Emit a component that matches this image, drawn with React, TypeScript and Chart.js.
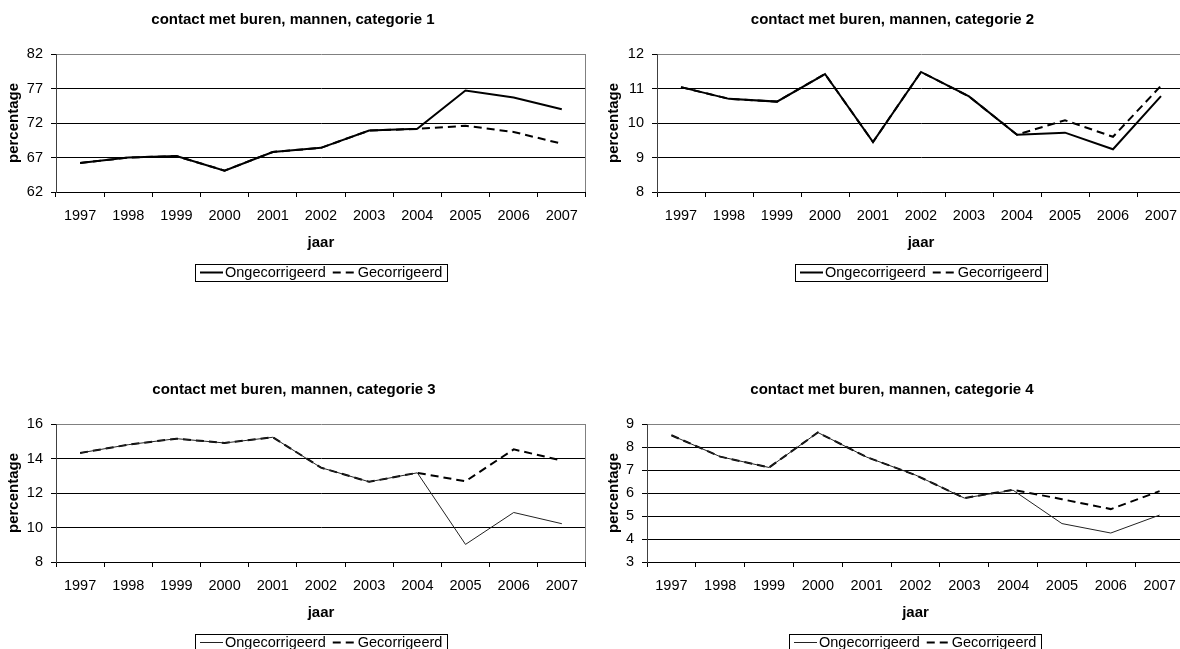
import React, { useEffect, useRef } from 'react';
import { Chart, registerables } from 'chart.js';

Chart.register(...registerables);

// ---------- data ----------
const years = ['1997', '1998', '1999', '2000', '2001', '2002', '2003', '2004', '2005', '2006', '2007'];
const seriesNames = ['Ongecorrigeerd', 'Gecorrigeerd'];
const xAxisTitle = 'jaar';
const yAxisTitle = 'percentage';

const chartTitles = [
  'contact met buren, mannen, categorie 1',
  'contact met buren, mannen, categorie 2',
  'contact met buren, mannen, categorie 3',
  'contact met buren, mannen, categorie 4',
];

const cat1Ongecorrigeerd = [66.2, 67.0, 67.2, 65.1, 67.8, 68.4, 70.9, 71.15, 76.7, 75.7, 74.0];
const cat1Gecorrigeerd = [66.2, 67.0, 67.2, 65.1, 67.8, 68.4, 70.9, 71.15, 71.6, 70.7, 69.0];

const cat2Ongecorrigeerd = [11.04, 10.7, 10.62, 11.42, 9.45, 11.48, 10.77, 9.66, 9.72, 9.24, 10.78];
const cat2Gecorrigeerd = [11.04, 10.7, 10.62, 11.42, 9.45, 11.48, 10.77, 9.66, 10.08, 9.6, 11.08];

const cat3Ongecorrigeerd = [14.32, 14.8, 15.15, 14.9, 15.23, 13.47, 12.65, 13.17, 9.02, 10.87, 10.22];
const cat3Gecorrigeerd = [14.32, 14.8, 15.15, 14.9, 15.23, 13.47, 12.65, 13.17, 12.68, 14.53, 13.88];

const cat4Ongecorrigeerd = [8.51, 7.58, 7.11, 8.63, 7.56, 6.78, 5.78, 6.12, 4.67, 4.26, 5.04];
const cat4Gecorrigeerd = [8.51, 7.58, 7.11, 8.63, 7.56, 6.78, 5.78, 6.14, 5.73, 5.3, 6.08];

const yMins = [62, 8, 8, 3];
const yMaxs = [82, 12, 16, 9];
const ySteps = [5, 1, 2, 1];

// ---------- layout / style ----------
const FONT = '"Liberation Sans", Arial, sans-serif';
Chart.defaults.font.family = FONT;

type PanelCfg = {
  idx: number;
  solid: number[];
  dashed: number[];
  left: number;
  top: number;
  width: number;
  height: number;
  yWidth: number;
  rightPad: number;
  solidWidth: number;
  solidColor: string;
};

const panels: PanelCfg[] = [
  { idx: 0, solid: cat1Ongecorrigeerd, dashed: cat1Gecorrigeerd, left: 0, top: 0, width: 588, height: 296, yWidth: 56, rightPad: 2, solidWidth: 2, solidColor: '#000' },
  { idx: 1, solid: cat2Ongecorrigeerd, dashed: cat2Gecorrigeerd, left: 600, top: 0, width: 588, height: 296, yWidth: 57, rightPad: 3, solidWidth: 2, solidColor: '#000' },
  { idx: 2, solid: cat3Ongecorrigeerd, dashed: cat3Gecorrigeerd, left: 0, top: 370, width: 588, height: 296, yWidth: 56, rightPad: 0, solidWidth: 1, solidColor: '#222' },
  { idx: 3, solid: cat4Ongecorrigeerd, dashed: cat4Gecorrigeerd, left: 600, top: 370, width: 588, height: 296, yWidth: 47, rightPad: 4, solidWidth: 1, solidColor: '#222' },
];

const DASH = [8, 5];
const LABEL_SIZE = 14.5;

const framePlugin = {
  id: 'frameAndLegend',
  afterDraw(chart: any) {
    const { ctx, chartArea } = chart;
    ctx.save();
    // right border of plot area
    ctx.strokeStyle = '#808080';
    ctx.lineWidth = 1;
    ctx.beginPath();
    ctx.moveTo(Math.round(chartArea.right) - 0.5, chartArea.top);
    ctx.lineTo(Math.round(chartArea.right) - 0.5, chartArea.bottom);
    ctx.stroke();

    // legend with box
    const ds = chart.data.datasets;
    ctx.font = `${LABEL_SIZE}px ${FONT}`;
    const w1 = ctx.measureText(ds[0].label).width;
    const w2 = ctx.measureText(ds[1].label).width;
    const sample = 23, gapText = 2, gapItem = 7, padX = 5;
    const total = padX + sample + gapText + w1 + gapItem + sample + gapText + w2 + padX;
    const cx = (chartArea.left + chartArea.right) / 2;
    const cy = chartArea.bottom + 80.5;
    const x0 = Math.round(cx - total / 2);
    ctx.strokeStyle = '#000';
    ctx.lineWidth = 1;
    ctx.setLineDash([]);
    ctx.strokeRect(x0 + 0.5, Math.round(cy - 8.5) + 0.5, Math.round(total), 17);

    let x = x0 + padX;
    ctx.textBaseline = 'middle';
    ctx.textAlign = 'left';
    ctx.fillStyle = '#000';
    // solid sample
    ctx.strokeStyle = ds[0].borderColor;
    ctx.lineWidth = ds[0].borderWidth;
    ctx.beginPath();
    ctx.moveTo(x, cy);
    ctx.lineTo(x + sample, cy);
    ctx.stroke();
    x += sample + gapText;
    ctx.fillText(ds[0].label, x, cy + 0.5);
    x += w1 + gapItem;
    // dashed sample
    ctx.strokeStyle = ds[1].borderColor;
    ctx.lineWidth = ds[1].borderWidth;
    ctx.setLineDash(ds[1].borderDash || []);
    ctx.beginPath();
    ctx.moveTo(x, cy);
    ctx.lineTo(x + sample, cy);
    ctx.stroke();
    ctx.setLineDash([]);
    x += sample + gapText;
    ctx.fillText(ds[1].label, x, cy + 0.5);
    ctx.restore();
  },
};

function Panel({ cfg }: { cfg: PanelCfg }) {
  const ref = useRef<HTMLCanvasElement>(null);
  useEffect(() => {
    if (!ref.current) return;
    const i = cfg.idx;
    const yMax = yMaxs[i];
    const chart = new Chart(ref.current, {
      type: 'line',
      data: {
        labels: years,
        datasets: [
          {
            label: seriesNames[0],
            data: cfg.solid,
            borderColor: cfg.solidColor,
            borderWidth: cfg.solidWidth,
            pointRadius: 0,
            tension: 0,
            fill: false,
          },
          {
            label: seriesNames[1],
            data: cfg.dashed,
            borderColor: '#000',
            borderWidth: 2,
            borderDash: DASH,
            pointRadius: 0,
            tension: 0,
            fill: false,
          },
        ],
      },
      options: {
        responsive: false,
        maintainAspectRatio: false,
        animation: false,
        events: [],
        layout: { padding: { left: 0, right: cfg.rightPad, top: 0, bottom: 40 } },
        plugins: {
          legend: { display: false },
          tooltip: { enabled: false },
          title: {
            display: true,
            text: chartTitles[i],
            color: '#000',
            font: { family: FONT, size: 15, weight: 'bold' },
            padding: { top: 11, bottom: 25 },
          },
        },
        scales: {
          x: {
            type: 'category',
            offset: true,
            grid: {
              offset: true,
              drawOnChartArea: false,
              drawTicks: true,
              tickLength: 5,
              color: '#000',
            },
            border: { display: true, color: '#000', width: 1 },
            ticks: {
              color: '#000',
              font: { family: FONT, size: LABEL_SIZE },
              padding: 10,
              maxRotation: 0,
              autoSkip: false,
            },
            title: {
              display: true,
              text: xAxisTitle,
              color: '#000',
              font: { family: FONT, size: 15, weight: 'bold' },
              padding: { top: 0, bottom: 4 },
            },
            afterFit: (s: any) => {
              s.height = 64;
            },
          },
          y: {
            type: 'linear',
            min: yMins[i],
            max: yMax,
            ticks: {
              stepSize: ySteps[i],
              color: '#000',
              font: { family: FONT, size: LABEL_SIZE },
              padding: 8,
            },
            grid: {
              color: (c: any) => (c.tick && c.tick.value === yMax ? '#808080' : '#000'),
              tickColor: '#000',
              lineWidth: 1,
              drawTicks: true,
              tickLength: 5,
            },
            border: { display: true, color: '#404040', width: 1 },
            title: {
              display: true,
              text: yAxisTitle,
              color: '#000',
              font: { family: FONT, size: 15, weight: 'bold' },
              padding: { top: 5, bottom: 0 },
            },
            afterFit: (s: any) => {
              s.width = cfg.yWidth;
            },
          },
        },
      },
      plugins: [framePlugin],
    } as any);
    return () => chart.destroy();
  }, [cfg]);

  return (
    <canvas
      ref={ref}
      width={cfg.width}
      height={cfg.height}
      style={{ position: 'absolute', left: cfg.left, top: cfg.top, width: cfg.width, height: cfg.height }}
    />
  );
}

export default function App() {
  return (
    <div
      style={{
        position: 'fixed',
        left: 0,
        top: 0,
        width: 1180,
        height: 649,
        overflow: 'hidden',
        background: '#fff',
      }}
    >
      {panels.map((p) => (
        <Panel key={p.idx} cfg={p} />
      ))}
    </div>
  );
}
